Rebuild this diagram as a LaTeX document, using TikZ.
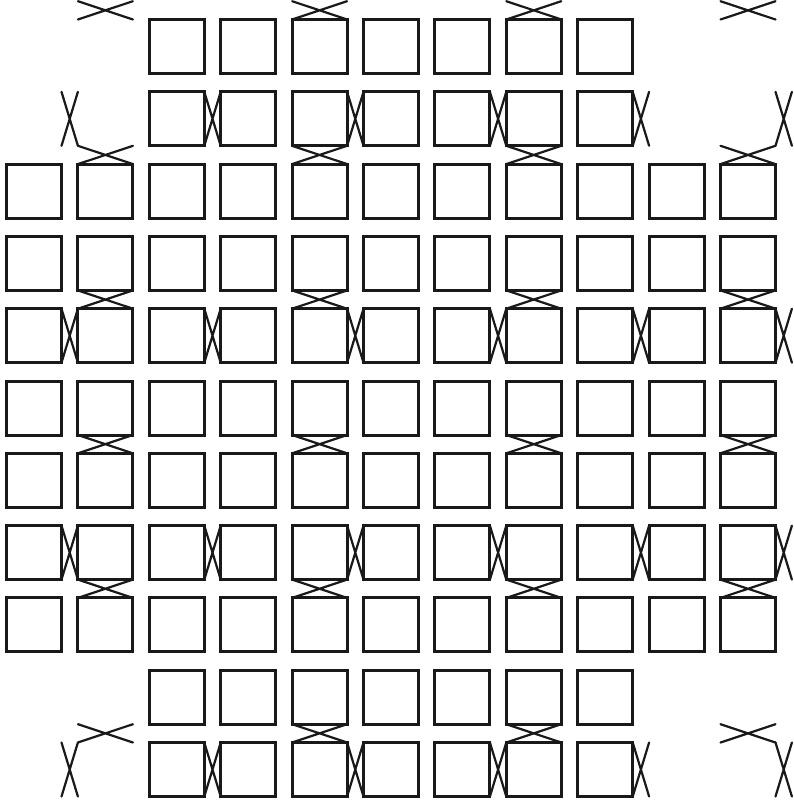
\documentclass[tikz,border=0pt]{standalone}
\begin{document}
\begin{tikzpicture}[x=1pt,y=-1pt,
  sq/.style={rectangle, draw=black!90, line width=3pt, minimum width=55pt, minimum height=54pt, inner sep=0pt, outer sep=0pt, anchor=north west},
  ghost/.style={rectangle, minimum width=55pt, minimum height=54pt, inner sep=0pt, outer sep=0pt, anchor=north west},
  xl/.style={draw=black!90, line width=2.2pt, line cap=round}]
\useasboundingbox[fill=white] (0,0) rectangle (793,809);
% grid cells: real squares and unseen cells that only anchor the free ends of crosses
\foreach \i in {-1,...,10}{
  \foreach \j in {0,...,11}{
    \pgfmathtruncatemacro\real{and(and(\i>=0,\j<=10), or(and(\i>=2,\i<=8), and(\j>=2,\j<=8)))}
    \ifnum\real=1
      \node[sq] (s-\i-\j) at ({6.5+71.4*\j},{19.5+72.3*\i}) {};
    \else
      \node[ghost] (s-\i-\j) at ({6.5+71.4*\j},{19.5+72.3*\i}) {};
    \fi
  }
}
% crosses between neighbouring columns
\foreach \i in {1,4,7,10}{
  \foreach \j in {0,2,4,6,8,10}{
    \pgfmathtruncatemacro\jnext{\j+1}
    \draw[xl] (s-\i-\j.north east) -- (s-\i-\jnext.south west)
              (s-\i-\j.south east) -- (s-\i-\jnext.north west);
  }
}
% crosses between neighbouring rows
\foreach \j in {1,4,7,10}{
  \foreach \i in {-1,1,3,5,7,9}{
    \pgfmathtruncatemacro\inext{\i+1}
    \draw[xl] (s-\i-\j.south west) -- (s-\inext-\j.north east)
              (s-\i-\j.south east) -- (s-\inext-\j.north west);
  }
}
\end{tikzpicture}
\end{document}
